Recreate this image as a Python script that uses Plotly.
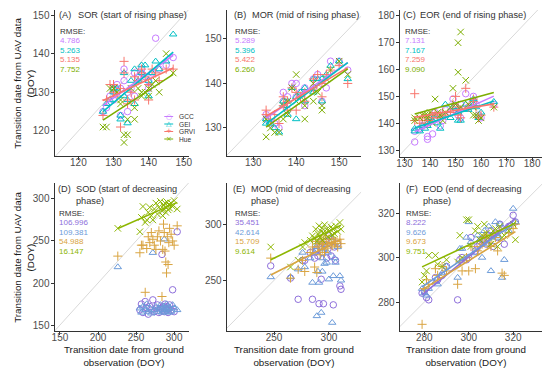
import numpy as np
import plotly.graph_objects as go

# The page body has an 8px margin, so the figure is drawn 8px in from the window's corner.
OFF = 8
W, H = 550 - OFF, 369 - OFF

series_names = ["GCC", "GEI", "GRVI", "Hue"]
symbols = ["circle-open", "triangle-up-open", "cross-thin-open", "x-thin-open"]
top_colors = ["#C77CFF", "#00BFC4", "#F8766D", "#7CAE00"]
bot_colors = ["#8E6FDB", "#6C9BD9", "#D9A441", "#8DB600"]

# ---------------- data ----------------
# (A) SOR
xA = [127, 128, 129, 130, 130, 131, 132, 132, 133, 133, 134, 134, 135, 136, 136, 137, 138, 138, 139, 140, 140, 141, 142, 143, 145, 147]
gccA = [125, 126, 129, 131, 128, 132, 131, 124, 136, 133, 125, 130, 131, 129, 135, 134, 135, 136, 134, 133, 131, 135, 144, 136, 137, 139]
geiA = [125, 127, 128, 131, 130, 131, 124, 123, 135, 129, 122, 128, 133, 127, 136, 133, 137, 135, 137, 129, 133, 135, 138, 136, 138, 145]
grviA = [124, 128, 132, 132, 130, 129, 131, 121, 138, 135, 128, 127, 130, 128, 134, 133, 136, 135, 134, 128, 132, 136, 135, 133, 136, 136]
hueA = [121, 121, 131, 131, 131, 130, 128, 127, 119, 117, 119, 123, 131, 123, 126, 131, 130, 129, 130, 129, 131, 132, 133, 130, 140, 135]
rmseA = ["4.786", "5.263", "5.135", "7.752"]

# (B) MOR
xB = [133, 133, 134, 135, 136, 137, 137, 138, 138, 139, 140, 140, 141, 142, 142, 144, 144, 145, 146, 146, 147, 148, 150, 152]
gccB = [132, 133, 131, 131, 130, 138, 136, 137, 134, 140, 140, 137, 138, 139, 135, 141, 139, 142, 140, 136, 139, 145, 145, 143]
geiB = [131, 132, 131, 130, 129, 136, 135, 136, 133, 139, 132, 137, 138, 139, 136, 141, 138, 141, 141, 136, 142, 144, 145, 141]
grviB = [134, 133, 132, 133, 131, 137, 135, 136, 134, 139, 134, 138, 137, 138, 136, 141, 139, 142, 140, 137, 142, 143, 144, 140]
hueB = [128, 132, 130, 129, 129, 135, 132, 136, 133, 139, 142, 136, 137, 132, 135, 136, 140, 138, 134, 135, 141, 143, 145, 142]
rmseB = ["5.289", "5.396", "5.422", "6.260"]

# (C) EOR
xC = [134, 134, 136, 137, 138, 139, 139, 140, 141, 142, 143, 144, 145, 146, 148, 149, 150, 151, 151, 152, 152, 154, 155, 157, 157, 158, 159, 160, 165]
gccC = [133, 137, 138, 139, 140, 134, 135, 141, 136, 144, 143, 139, 141, 145, 144, 149, 146, 143, 145, 142, 147, 151, 146, 148, 150, 147, 143, 142, 147]
geiC = [138, 137, 137, 139, 138, 140, 139, 142, 141, 143, 140, 138, 143, 147, 142, 146, 146, 141, 144, 141, 145, 147, 145, 147, 149, 146, 142, 144, 148]
grviC = [151, 141, 140, 142, 141, 141, 140, 143, 142, 144, 142, 143, 144, 143, 144, 147, 150, 143, 146, 142, 145, 153, 146, 148, 149, 146, 142, 143, 146]
hueC = [142, 141, 142, 143, 143, 142, 143, 144, 140, 149, 144, 143, 141, 144, 146, 153, 147, 159, 170, 174, 146, 156, 147, 143, 146, 143, 141, 142, 146]
rmseC = ["7.131", "7.167", "7.259", "9.090"]

# (D) SOD
xD = [226, 255, 257, 259, 262, 264, 266, 268, 270, 272, 274, 276, 278, 280, 282, 284, 285, 286, 287, 288, 289, 290, 291, 292, 293, 294, 296, 298, 300, 304]
gccD = [None, 168, 175, 165, 178, 170, 163, 172, 168, 180, 166, 170, 174, 165, 170, 234, 168, 172, 166, 175, 170, 168, 172, 165, 170, 174, 168, 192, 166, 261]
geiD = [219, 170, 165, 172, 168, 175, 166, 170, 164, 236, 168, 172, 166, 170, 174, 165, 168, 172, 252, 166, 170, 175, 168, 172, 165, 170, 166, 174, 170, 168]
grviD = [232, 236, 245, 245, 189, 241, 255, 248, 260, 252, 245, 240, 255, 262, 250, 184, 240, 270, 260, 238, 225, 212, 255, 222, 248, 265, 258, 250, 245, 268]
hueD = [265, 261, 278, 291, 272, 275, 284, 290, 280, 275, 288, 295, 282, 290, 297, 286, 280, 292, 288, 295, 284, 290, 296, 287, 293, 289, 295, 291, 298, 288]
rmseD = ["106.996", "109.381", "54.988", "16.147"]

# (E) MOD
xE = [247, 265, 272, 276, 278, 283, 285, 287, 288, 289, 290, 291, 292, 293, 294, 294, 295, 296, 297, 298, 299, 300, 302, 303, 304, 305, 306, 308, 310, 311]
gccE = [263, 252, 233, 268, 268, 275, 233, 270, 276, 278, 272, 229, 280, 251, 283, 275, 229, 282, 285, 270, 278, 290, 272, 285, 228, 280, 268, 283, 245, 242]
geiE = [253, 253, 260, 275, 262, 270, 248, 275, 280, 218, 258, 248, 285, 221, 270, 258, 278, 265, 282, 266, 275, 251, 288, 212, 254, 270, 266, 280, 254, 250]
grviE = [270, 252, 260, 268, 258, 275, 280, 262, 285, 257, 280, 283, 273, 287, 278, 282, 285, 275, 290, 283, 279, 287, 284, 281, 288, 283, 285, 280, 287, 283]
hueE = [280, 262, 268, 280, 284, 286, 290, 288, 296, 285, 292, 299, 289, 294, 297, 286, 293, 300, 291, 296, 289, 294, 298, 291, 296, 292, 299, 294, 302, 296]
rmseE = ["35.451", "42.614", "15.709", "9.614"]

# (F) EOD
xF = [279, 280, 281, 282, 285, 286, 288, 290, 295, 296, 297, 299, 300, 301, 303, 304, 305, 306, 307, 308, 309, 310, 311, 312, 313, 314, 315, 316, 318, 320, 321]
gccF = [284, 285, 282, 281, 291, 290, 292, 296, 281, 299, 300, 299, 300, 309, 303, 305, 306, 308, 307, 306, 310, 312, 305, 311, 309, 315, 313, 306, 314, 319, 316]
geiF = [286, 284, 283, 286, 289, 288, 293, 296, 291, 304, 304, 309, 316, 307, 302, 310, 308, 300, 312, 306, 314, 294, 310, 316, 309, 315, 291, 299, 312, 322, 316]
grviF = [270, 286, 290, 288, 295, 292, 296, 294, 288, 298, 294, 300, 294, 305, 295, 303, 305, 306, 309, 310, 307, 305, 310, 309, 303, 312, 293, 292, 311, 313, 315]
hueF = [289, 292, 294, 301, 301, 297, 296, 299, 298, 310, 300, 317, 317, 305, 312, 314, 308, 310, 315, 311, 309, 306, 312, 313, 305, 314, 309, 310, 312, 315, 308]
rmseF = ["8.222", "9.626", "9.673", "9.751"]

titles = ["SOR (start of rising phase)", "MOR (mid of rising phase)", "EOR (end of rising phase)",
          "SOD (start of decreasing<br>phase)", "MOD (mid of decreasing<br>phase)", "EOD (end of decreasing<br>phase)"]
labels = ["(A)", "(B)", "(C)", "(D)", "(E)", "(F)"]

# ---------------- layout config (window pixels) ----------------
panels = [
    dict(x=xA, ys=[gccA, geiA, grviA, hueA], rmse=rmseA, fit=[0, 1, 2, 3], colors=top_colors,
         xr=[113.2, 151.5], yr=[113.5, 151.3], px=[52, 188], py=[10, 156], dt=10, lab_x=55, tit_x=74, rm_x=56),
    dict(x=xB, ys=[gccB, geiB, grviB, hueB], rmse=rmseB, fit=[0, 1, 2, 3], colors=top_colors,
         xr=[123.8, 155.1], yr=[123.7, 156.5], px=[226, 362], py=[10, 156], dt=10, lab_x=231, tit_x=250, rm_x=232),
    dict(x=xC, ys=[gccC, geiC, grviC, hueC], rmse=rmseC, fit=[0, 1, 2, 3], colors=top_colors,
         xr=[128.1, 183.9], yr=[127.4, 182.2], px=[401, 545], py=[10, 157], dt=10, lab_x=402, tit_x=420, rm_x=404),
    dict(x=xD, ys=[gccD, geiD, grviD, hueD], rmse=rmseD, fit=[3], colors=bot_colors,
         xr=[142.9, 319.5], yr=[143, 318.9], px=[52, 188], py=[183, 331], dt=50, lab_x=54, tit_x=72, rm_x=55),
    dict(x=xE, ys=[gccE, geiE, grviE, hueE], rmse=rmseE, fit=[2, 3], colors=bot_colors,
         xr=[206.8, 329.3], yr=[204.5, 337.5], px=[226, 362], py=[183, 331], dt=50, lab_x=230, tit_x=249, rm_x=232),
    dict(x=xF, ys=[gccF, geiF, grviF, hueF], rmse=rmseF, fit=[0, 1, 2, 3], colors=bot_colors,
         xr=[268.9, 333.0], yr=[267.0, 333.5], px=[401, 545], py=[183, 331], dt=20, lab_x=405, tit_x=423, rm_x=405),
]
title_y = [15, 15, 15, 181.5, 181.5, 181.5]
rmse_y = [31, 31, 31, 213, 213, 213]

FONT = "Arial, Liberation Sans, sans-serif"
TXT = "#333333"


def fx(p):
    return (p - OFF) / W


def fy(p):
    return 1 - (p - OFF) / H


fig = go.Figure()
annotations = []
shapes = []

for i, p in enumerate(panels):
    k = "" if i == 0 else str(i + 1)
    xa, ya = "x" + k, "y" + k
    lo = min(p["xr"][0], p["yr"][0])
    hi = max(p["xr"][1], p["yr"][1])
    fig.add_trace(go.Scatter(x=[lo, hi], y=[lo, hi], mode="lines", xaxis=xa, yaxis=ya,
                             line=dict(color="#d9d9d9", width=1), showlegend=False, hoverinfo="skip"))
    for s in range(4):
        c = p["colors"][s]
        fig.add_trace(go.Scatter(x=p["x"], y=p["ys"][s], mode="markers", xaxis=xa, yaxis=ya,
                                 marker=dict(symbol=symbols[s], size=6.5, color=c,
                                             line=dict(color=c, width=1)),
                                 name=series_names[s], showlegend=False))
    for s in p["fit"]:
        xs = np.array([xv for xv, yv in zip(p["x"], p["ys"][s]) if yv is not None], float)
        ys = np.array([yv for yv in p["ys"][s] if yv is not None], float)
        b, a = np.polyfit(xs, ys, 1)
        xl = np.array([xs.min(), xs.max()])
        fig.add_trace(go.Scatter(x=xl, y=a + b * xl, mode="lines", xaxis=xa, yaxis=ya,
                                 line=dict(color=p["colors"][s], width=1.6),
                                 showlegend=False, hoverinfo="skip"))
    axis_common = dict(showline=True, linecolor="#333333", linewidth=1, showgrid=False, zeroline=False,
                       ticks="outside", ticklen=3, tickcolor="#333333", tickwidth=1,
                       tickfont=dict(family=FONT, size=10, color="#4d4d4d"), dtick=p["dt"])
    fig.layout["xaxis" + k] = dict(domain=[fx(p["px"][0]), fx(p["px"][1])], range=p["xr"], anchor=ya,
                                   ticklabelstandoff=-6, **axis_common)
    fig.layout["yaxis" + k] = dict(domain=[fy(p["py"][1]), fy(p["py"][0])], range=p["yr"], anchor=xa,
                                   ticklabelstandoff=-1, **axis_common)

    tanchor = "middle" if i < 3 else "top"
    ty = title_y[i]
    annotations.append(dict(x=fx(p["lab_x"]), y=fy(ty), xref="paper", yref="paper", text=labels[i],
                            xanchor="left", yanchor=tanchor, showarrow=False, align="left",
                            font=dict(family=FONT, size=9.2, color=TXT)))
    annotations.append(dict(x=fx(p["tit_x"]), y=fy(ty), xref="paper", yref="paper", text=titles[i],
                            xanchor="left", yanchor=tanchor, showarrow=False, align="left",
                            font=dict(family=FONT, size=9.2, color=TXT)))
    rm_top = rmse_y[i]
    annotations.append(dict(x=fx(p["rm_x"]), y=fy(rm_top), xref="paper", yref="paper", text="RMSE:",
                            xanchor="left", yanchor="middle", showarrow=False,
                            font=dict(family=FONT, size=8, color=TXT)))
    for s in range(4):
        annotations.append(dict(x=fx(p["rm_x"]), y=fy(rm_top + 9.6 * (s + 1)), xref="paper", yref="paper",
                                text=p["rmse"][s], xanchor="left", yanchor="middle", showarrow=False,
                                font=dict(family=FONT, size=8, color=p["colors"][s])))

# axis titles
for cy in [83, 257]:
    annotations.append(dict(x=fx(21), y=fy(cy), xref="paper", yref="paper",
                            text="Transition date from UAV data<br>(DOY)", textangle=-90,
                            xanchor="center", yanchor="middle", showarrow=False,
                            font=dict(family=FONT, size=9.8, color="#1a1a1a")))
for cx in [122, 294, 468]:
    annotations.append(dict(x=fx(cx), y=fy(342), xref="paper", yref="paper",
                            text="Transition date from ground<br>observation (DOY)",
                            xanchor="center", yanchor="top", showarrow=False,
                            font=dict(family=FONT, size=9.8, color="#1a1a1a")))

# legend (panel A)
glyphs = ["○", "△", "+", "×"]
for s in range(4):
    ly = 116.5 + 7.5 * s
    shapes.append(dict(type="line", xref="paper", yref="paper", x0=fx(163), x1=fx(172), y0=fy(ly), y1=fy(ly),
                       line=dict(color=top_colors[s], width=1)))
    annotations.append(dict(x=fx(167.5), y=fy(ly), xref="paper", yref="paper", text=glyphs[s],
                            xanchor="center", yanchor="middle", showarrow=False,
                            font=dict(family="DejaVu Sans", size=7, color=top_colors[s])))
    annotations.append(dict(x=fx(176), y=fy(ly), xref="paper", yref="paper", text=series_names[s],
                            xanchor="left", yanchor="middle", showarrow=False,
                            font=dict(family=FONT, size=6.6, color=TXT)))

fig.update_layout(width=W, height=H, margin=dict(l=0, r=0, t=0, b=0),
                  paper_bgcolor="white", plot_bgcolor="white", showlegend=False,
                  annotations=annotations, shapes=shapes)

fig.write_html("out.html")
